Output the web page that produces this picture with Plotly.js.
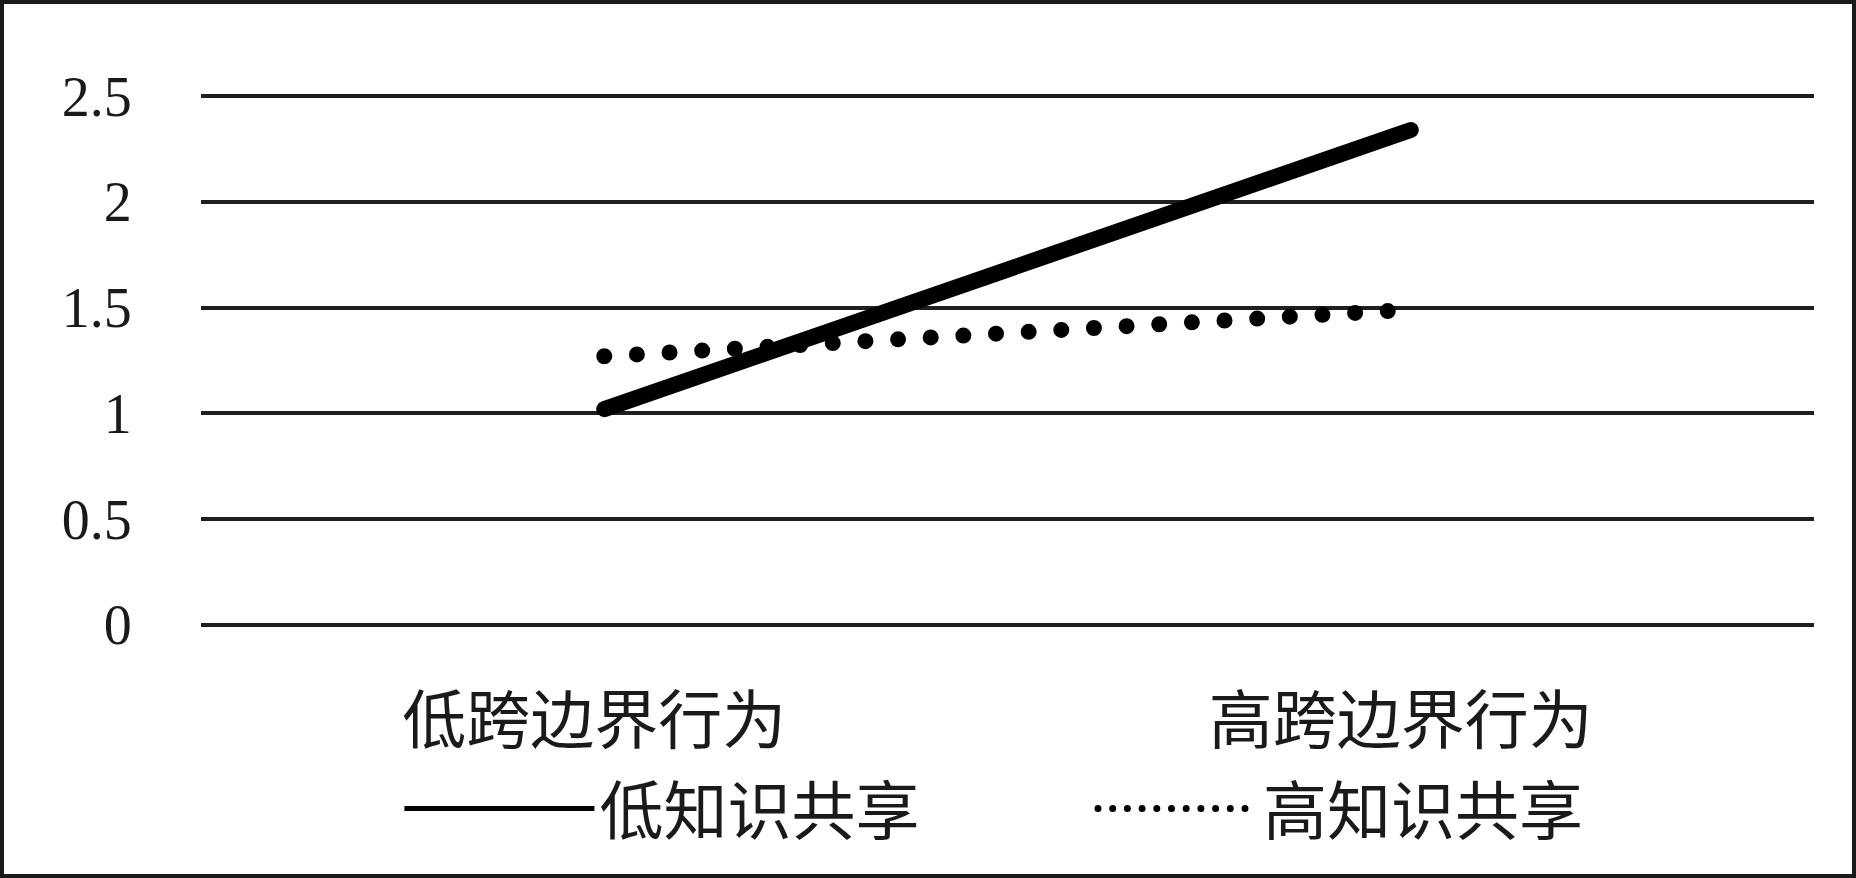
<!DOCTYPE html>
<html>
<head>
<meta charset="utf-8">
<script src="https://cdn.plot.ly/plotly-3.0.1.min.js"></script>
<style>
  html, body { margin: 0; padding: 0; background: #fff; }
  #wrap { position: relative; width: 1856px; height: 878px; }
  #chart { width: 1856px; height: 878px; }
  #frame { position: absolute; left: 0; top: 0; width: 1856px; height: 878px; box-sizing: border-box; border: 4px solid #1a1a1a; pointer-events: none; }
  .scatterlayer .js-line { stroke-linecap: round; }
</style>
</head>
<body>
<div id="wrap">
  <div id="chart"></div>
  <div id="frame"></div>
</div>
<script>
const categories = ["低跨边界行为", "高跨边界行为"];
const seriesNames = ["低知识共享", "高知识共享"];
const lowSharing = [1.02, 2.34];
const highSharing = [1.27, 1.49];
const yTickVals = [0, 0.5, 1, 1.5, 2, 2.5];
const yTickText = ["0", "0.5", "1", "1.5", "2", "2.5"];

const traces = [
  {
    type: "scatter", mode: "lines", name: seriesNames[0],
    x: categories, y: lowSharing, legend: "legend",
    line: { color: "#000000", width: 16, dash: "solid" }
  },
  {
    type: "scatter", mode: "lines", name: seriesNames[1],
    x: categories, y: highSharing, legend: "legend2",
    line: { color: "#000000", width: 16, dash: "0px,32.7px" }
  }
];

const legendFont = { family: "Noto Sans CJK SC", size: 64, color: "#1a1a1a" };

const layout = {
  width: 1856, height: 878,
  margin: { l: 201, r: 42, t: 94, b: 251 },
  paper_bgcolor: "#ffffff", plot_bgcolor: "#ffffff",
  showlegend: true,
  legend: {
    orientation: "h", x: 0.123, xanchor: "left", y: -0.3415, yanchor: "middle",
    font: legendFont, itemwidth: 190, bgcolor: "rgba(0,0,0,0)"
  },
  legend2: {
    orientation: "h", x: 0.5530, xanchor: "left", y: -0.3415, yanchor: "middle",
    font: legendFont, itemwidth: 160, bgcolor: "rgba(0,0,0,0)"
  },
  xaxis: {
    type: "category", categoryorder: "array", categoryarray: categories,
    range: [-0.5, 1.5], showgrid: false, showline: false, zeroline: false,
    ticks: "outside", ticklen: 38, tickcolor: "rgba(0,0,0,0)",
    ticklabelshift: -10,
    tickfont: { family: "Noto Sans CJK SC", size: 64, color: "#1a1a1a" },
    fixedrange: true
  },
  yaxis: {
    range: [-0.01, 2.51], tickvals: yTickVals, ticktext: yTickText,
    showgrid: true, gridcolor: "#1f1f1f", gridwidth: 4,
    zeroline: false, showline: false,
    ticks: "outside", ticklen: 57, tickcolor: "rgba(0,0,0,0)",
    tickfont: { family: "Liberation Serif", size: 56, color: "#1a1a1a" },
    fixedrange: true
  }
};

Plotly.newPlot("chart", traces, layout, { displayModeBar: false, staticPlot: true }).then(function () {
  document.querySelectorAll(".infolayer .js-line").forEach(function (p) {
    const d = p.style.strokeDasharray || "";
    if (d.indexOf("32.7") >= 0 || d.trim().startsWith("0")) {
      p.style.setProperty("stroke-width", "7px", "important");
      p.style.setProperty("stroke-dasharray", "0px,14.7px", "important");
      p.style.setProperty("stroke-linecap", "round", "important");
    } else {
      p.style.setProperty("stroke-width", "5px", "important");
      p.style.setProperty("stroke-linecap", "butt", "important");
    }
  });
});
</script>
</body>
</html>
